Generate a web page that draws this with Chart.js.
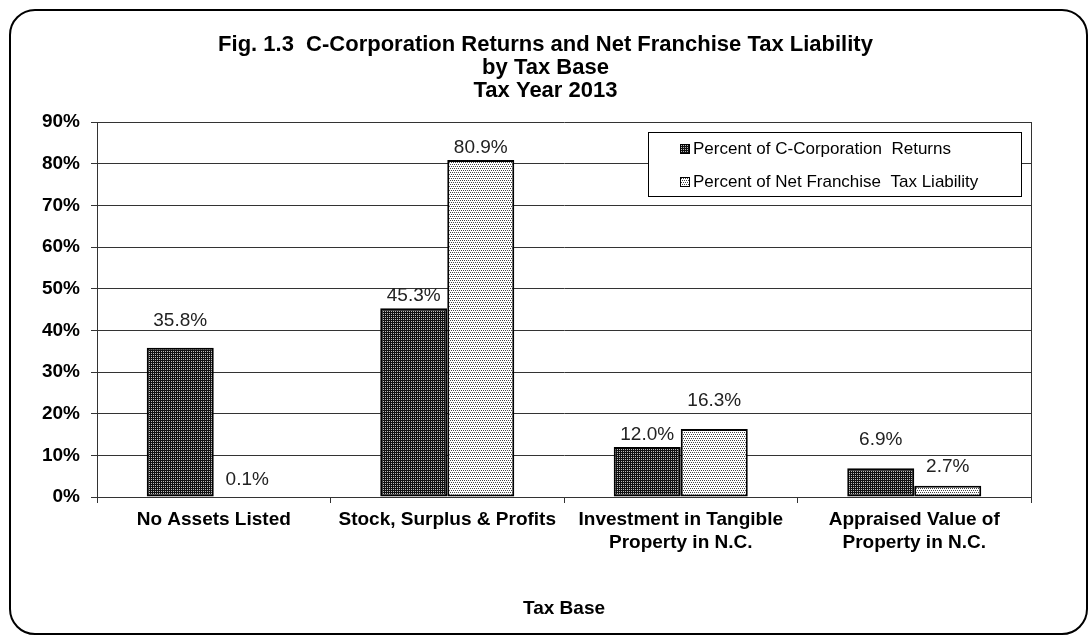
<!DOCTYPE html>
<html>
<head>
<meta charset="utf-8">
<script src="https://cdn.jsdelivr.net/npm/chart.js@4"></script>
<style>
  body { margin: 0; background: #fff; }
  #wrap { width: 1091px; height: 637px; position: relative; }
</style>
</head>
<body>
<div id="wrap"><canvas id="taxBaseChart"></canvas></div>
<script>
const titleLines = ['Fig. 1.3  C-Corporation Returns and Net Franchise Tax Liability', 'by Tax Base', 'Tax Year 2013'];
const categories = ['No Assets Listed', 'Stock, Surplus & Profits', ['Investment in Tangible', 'Property in N.C.'], ['Appraised Value of', 'Property in N.C.']];
const seriesNames = ['Percent of C-Corporation  Returns', 'Percent of Net Franchise  Tax Liability'];
const returnsPct = [35.8, 45.3, 12.0, 6.9];
const liabilityPct = [0.1, 80.9, 16.3, 2.7];
const yMax = 90;
const yStep = 10;
const xTitle = 'Tax Base';

// how far each value label sits above its bar (px), as placed in the original
const labelLift = [[27, 12, 12, 28], [17, 12, 28, 19]];

const FONT = '"Liberation Sans", Arial, sans-serif';

function makePattern(bg, fg, dots) {
    const tile = document.createElement('canvas');
    tile.width = 4;
    tile.height = 4;
    const t = tile.getContext('2d');
    t.fillStyle = bg;
    t.fillRect(0, 0, 4, 4);
    t.fillStyle = fg;
    dots.forEach(([x, y]) => t.fillRect(x, y, 1, 1));
    return document.createElement('canvas').getContext('2d').createPattern(tile, 'repeat');
}

const darkFill = makePattern('#111', '#bbb', [[1, 1], [3, 1], [1, 3], [3, 3]]);
const lightFill = makePattern('#fff', '#444', [[0, 0], [2, 0], [1, 2], [3, 2]]);
const fills = [darkFill, lightFill];

const framePlugin = {
    id: 'frame',
    beforeDraw(chart) {
        const ctx = chart.ctx;
        ctx.save();
        ctx.fillStyle = '#fff';
        ctx.fillRect(0, 0, chart.width, chart.height);
        const x = 10, y = 10, w = 1077, h = 624, r = 25;
        ctx.beginPath();
        ctx.moveTo(x + r, y);
        ctx.lineTo(x + w - r, y);
        ctx.arcTo(x + w, y, x + w, y + r, r);
        ctx.lineTo(x + w, y + h - r);
        ctx.arcTo(x + w, y + h, x + w - r, y + h, r);
        ctx.lineTo(x + r, y + h);
        ctx.arcTo(x, y + h, x, y + h - r, r);
        ctx.lineTo(x, y + r);
        ctx.arcTo(x, y, x + r, y, r);
        ctx.closePath();
        ctx.lineWidth = 2;
        ctx.strokeStyle = '#000';
        ctx.stroke();
        ctx.restore();
    },
    afterDatasetsDraw(chart) {
        const ctx = chart.ctx;
        const area = chart.chartArea;
        ctx.save();
        // right edge of the plot area
        ctx.strokeStyle = '#333';
        ctx.lineWidth = 1;
        ctx.beginPath();
        ctx.moveTo(Math.round(area.right) + 0.5, area.top);
        ctx.lineTo(Math.round(area.right) + 0.5, area.bottom);
        ctx.stroke();

        // value labels
        ctx.font = '19px ' + FONT;
        ctx.fillStyle = '#222';
        ctx.textAlign = 'center';
        ctx.textBaseline = 'middle';
        chart.data.datasets.forEach((ds, i) => {
            chart.getDatasetMeta(i).data.forEach((bar, j) => {
                ctx.fillText(ds.data[j].toFixed(1) + '%', bar.x, bar.y - labelLift[i][j]);
            });
        });
        ctx.restore();
    },
    afterDraw(chart) {
        const ctx = chart.ctx;
        ctx.save();
        // legend box
        ctx.fillStyle = '#fff';
        ctx.fillRect(648, 132, 374, 65);
        ctx.strokeStyle = '#000';
        ctx.lineWidth = 1;
        ctx.strokeRect(648.5, 132.5, 373, 64);
        ctx.font = '17px ' + FONT;
        ctx.textBaseline = 'middle';
        ctx.textAlign = 'left';
        const rows = [148, 181];
        seriesNames.forEach((name, i) => {
            ctx.fillStyle = fills[i];
            ctx.fillRect(680, rows[i] - 4, 10, 10);
            ctx.strokeStyle = '#000';
            ctx.strokeRect(680.5, rows[i] - 3.5, 9, 9);
            ctx.fillStyle = '#000';
            ctx.fillText(name, 693, rows[i] + 1);
        });
        ctx.restore();
    }
};

const ctx = document.getElementById('taxBaseChart').getContext('2d');
new Chart(ctx, {
    type: 'bar',
    data: {
        labels: categories,
        datasets: [{
            label: seriesNames[0],
            data: returnsPct,
            backgroundColor: darkFill,
            borderColor: '#000',
            borderWidth: 2,
            borderSkipped: false,
            categoryPercentage: 0.574,
            barPercentage: 1.0
        }, {
            label: seriesNames[1],
            data: liabilityPct,
            backgroundColor: lightFill,
            borderColor: '#000',
            borderWidth: 2,
            borderSkipped: false,
            categoryPercentage: 0.574,
            barPercentage: 1.0
        }]
    },
    options: {
        responsive: true,
        maintainAspectRatio: false,
        animation: false,
        layout: { padding: { top: 33, right: 0, left: 0, bottom: 0 } },
        plugins: {
            legend: { display: false },
            tooltip: { enabled: false },
            title: {
                display: true,
                text: titleLines,
                color: '#000',
                font: { family: FONT, size: 22, weight: 'bold', lineHeight: '23px' },
                padding: { top: 0, bottom: 20 }
            }
        },
        scales: {
            x: {
                afterFit(scale) { scale.height = 140; },
                grid: { drawOnChartArea: false, drawTicks: true, tickLength: 6, color: '#333' },
                border: { display: true, color: '#333' },
                ticks: {
                    color: '#000',
                    maxRotation: 0,
                    autoSkip: false,
                    padding: 5,
                    font: { family: FONT, size: 19, weight: 'bold', lineHeight: '23px' }
                },
                title: {
                    display: true,
                    text: xTitle,
                    color: '#000',
                    font: { family: FONT, size: 19, weight: 'bold', lineHeight: '22px' },
                    padding: { top: 0, bottom: 17 }
                }
            },
            y: {
                min: 0,
                max: yMax,
                afterFit(scale) { scale.width = 97; },
                grid: { color: '#333', tickLength: 6 },
                border: { display: true, color: '#333' },
                ticks: {
                    stepSize: yStep,
                    color: '#000',
                    padding: 11,
                    callback: v => v + '%',
                    font: { family: FONT, size: 19, weight: 'bold' }
                }
            },
            // empty right-hand margin so the title centres on the whole frame
            margin: {
                type: 'linear',
                position: 'right',
                afterFit(scale) { scale.width = 60; },
                grid: { display: false },
                border: { display: false },
                ticks: { display: false }
            }
        }
    },
    plugins: [framePlugin]
});
</script>
</body>
</html>
